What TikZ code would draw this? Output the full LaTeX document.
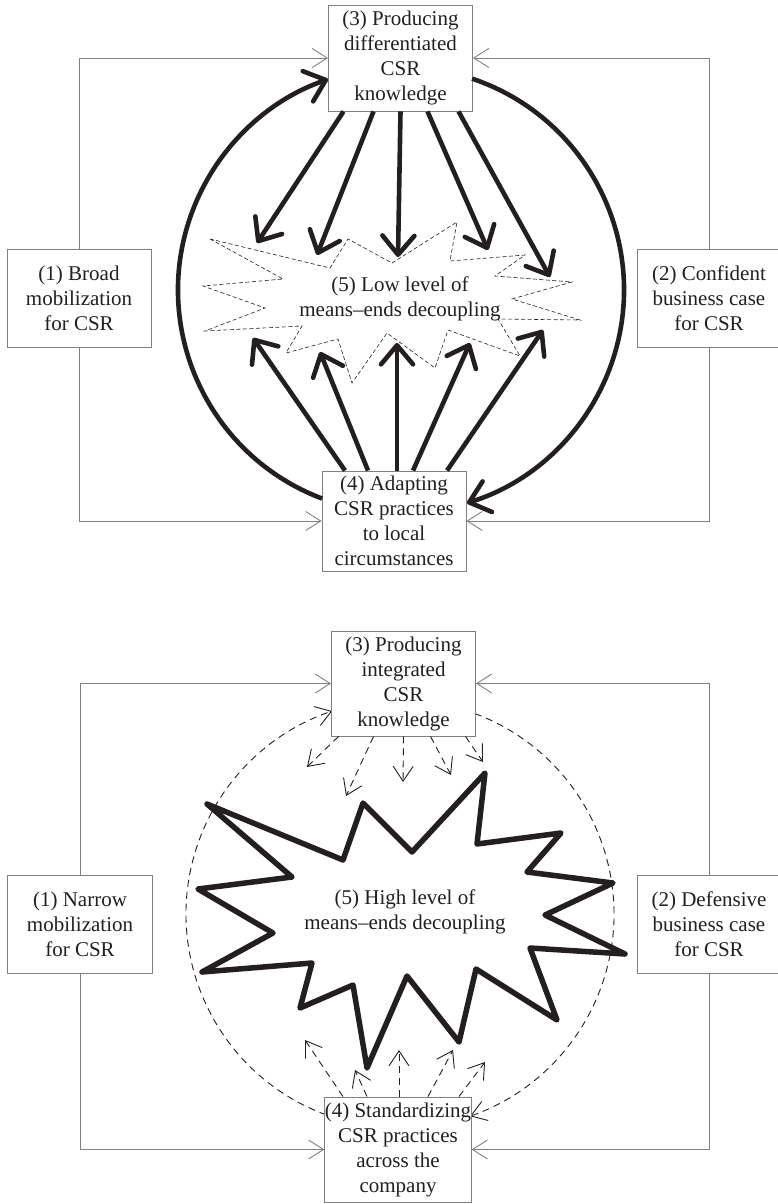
\documentclass[tikz,border=0pt]{standalone}
\usepackage{fontspec}
\setmainfont{Liberation Serif}
\usepackage{tikz}
\usetikzlibrary{arrows.meta,calc}

\definecolor{linegray}{RGB}{128,128,128}
\definecolor{inkgray}{RGB}{35,31,32}
\newcommand{\lblfont}{\fontsize{21}{25}\selectfont}

\tikzset{
  box/.style={draw=linegray,fill=white,line width=0.9pt,minimum width=144pt,minimum height=98pt,
    inner sep=0pt,align=center,font=\lblfont,text=inkgray},
  starlabel/.style={align=center,font=\lblfont,text=inkgray},
  fb/.style={draw=linegray,line width=0.9pt,-{Straight Barb[length=15pt,width=19pt]}},
  bigarr/.style={draw=inkgray,line width=4.6pt,-{Straight Barb[length=19pt,width=32pt,round]}},
  dasharr/.style={draw=inkgray,line width=0.9pt,dash pattern=on 7pt off 5pt,
    -{Straight Barb[length=15pt,width=20pt]}},
}

\begin{document}
\begin{tikzpicture}[x=1pt,y=-1pt]
  \useasboundingbox (0,0) rectangle (778,1204);

  % ---- upper panel: low decoupling ----
  \coordinate (o1) at (401,290);
  \draw[draw=inkgray,line width=0.6pt,dash pattern=on 4pt off 2.5pt,fill=white]
    (210,239) -- (283,279) -- (203,286) -- (265,308) -- (205,331) -- (302,326) --
    (286,353) -- (338,339) -- (352,383) -- (387,333) -- (435,368) -- (448,330) --
    (520,356) -- (498,319) -- (580,320) -- (512,299) -- (572,282) -- (495,276) --
    (525,255) -- (450,261) -- (457,222) -- (392,263) -- (348,239) -- (330,268) -- cycle;
  \node[starlabel] (low) at (400,299) {(5) Low level of\\means--ends decoupling};

  \node[box,minimum height=106pt] (b3) at (400.5,58) {(3) Producing\\differentiated\\CSR\\knowledge};
  \node[box] (b1) at (79,298.5) {(1) Broad\\mobilization\\for CSR};
  \node[box] (b2) at (709,298.5) {(2) Confident\\business case\\for CSR};
  \node[box,minimum height=100pt] (b4) at (394,521) {(4) Adapting\\CSR practices\\to local\\circumstances};

  \draw[fb] (b1.north) |- (b3.west);
  \draw[fb] (b2.north) |- (b3.east);
  \draw[fb] (b1.south) |- (b4.west);
  \draw[fb] (b2.south) |- (b4.east);

  \draw[bigarr] ($(o1)+(110.7:223)$) arc[start angle=110.7,end angle=250.9,radius=223];
  \draw[bigarr] ($(o1)+(-71.4:223)$) arc[start angle=-71.4,end angle=72.8,radius=223];

  \foreach \n/\p in {ta/{257,243},tb/{317,255},tc/{398,257},td/{488,250},te/{550,277},
                     ua/{253,338},ub/{320,352},uc/{397,343},ud/{470,343},ue/{543,330}}
    \coordinate (\n) at (\p);
  \foreach \dx/\n in {-57/ta,-27/tb,0/tc,27/td,58/te}
    \draw[bigarr] ([xshift=\dx pt]b3.south) -- (\n);
  \foreach \dx/\n in {-49/ua,-26/ub,3/uc,19/ud,53/ue}
    \draw[bigarr] ([xshift=\dx pt]b4.north) -- (\n);

  % ---- lower panel: high decoupling ----
  \coordinate (o2) at (400,914);
  \draw[draw=inkgray,line width=0.9pt,dash pattern=on 7pt off 5pt,-{Straight Barb[length=15pt,width=20pt]}]
    ($(o2)+(110.2:214)$) arc[start angle=110.2,end angle=251.5,radius=214];
  \draw[draw=inkgray,line width=0.9pt,dash pattern=on 7pt off 5pt,-{Straight Barb[length=15pt,width=20pt]}]
    ($(o2)+(-69.5:214)$) arc[start angle=-69.5,end angle=70.9,radius=214];

  \draw[draw=inkgray,line width=5.5pt,line join=round,fill=white]
    (207,804) -- (343,860) -- (363,803) -- (412,852) -- (485,773) -- (477,844) --
    (561,833) -- (527,872) -- (613,883) -- (545,915) -- (625,954) -- (530,948) --
    (557,1020) -- (476,969) -- (459,1042) -- (407,976) -- (367,1068) -- (353,985) --
    (300,1008) -- (312,963) -- (202,972) -- (273,933) -- (198,889) -- (292,877) -- cycle;
  \node[starlabel] (high) at (405,912) {(5) High level of\\means--ends decoupling};

  \node[box,minimum height=105pt] (c3) at (403.5,683.5) {(3) Producing\\integrated\\CSR\\knowledge};
  \node[box,minimum width=145pt] (c1) at (80,924) {(1) Narrow\\mobilization\\for CSR};
  \node[box] (c2) at (709,924) {(2) Defensive\\business case\\for CSR};
  \node[box,minimum height=105pt] (c4) at (398,1149.5) {(4) Standardizing\\CSR practices\\across the\\company};

  \draw[fb] (c1.north) |- (c3.west);
  \draw[fb] (c2.north) |- (c3.east);
  \draw[fb] (c1.south) |- (c4.west);
  \draw[fb] (c2.south) |- (c4.east);

  \foreach \n/\p in {va/{307,767},vb/{346,796},vc/{403,782},vd/{451,775},ve/{483,762},
                     wa/{305,1040},wb/{355,1070},wc/{399,1050},wd/{453,1050},we/{485,1062}}
    \coordinate (\n) at (\p);
  \foreach \dx/\n in {-65/va,-30/vb,0/vc,27/vd,62/ve}
    \draw[dasharr] ([xshift=\dx pt]c3.south) -- (\n);
  \foreach \dx/\n in {-55/wa,-31/wb,1/wc,30/wd,61/we}
    \draw[dasharr] ([xshift=\dx pt]c4.north) -- (\n);
\end{tikzpicture}
\end{document}
